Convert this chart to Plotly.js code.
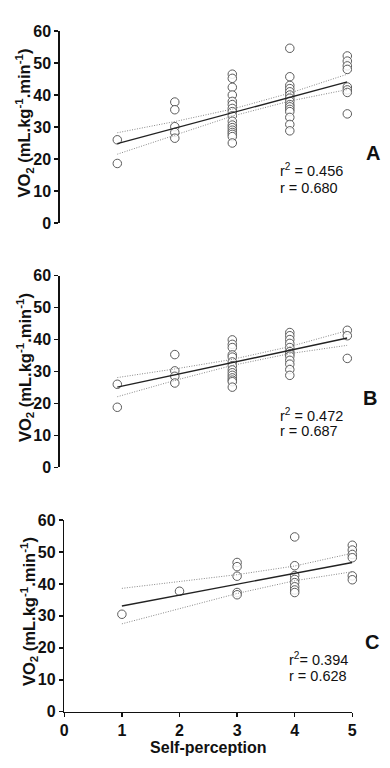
<!DOCTYPE html>
<html>
<head>
<meta charset="utf-8">
<script src="https://cdn.plot.ly/plotly-3.0.1.min.js"></script>
<style>html,body{margin:0;padding:0;background:#fff;}#chart{width:390px;height:768px;}</style>
</head>
<body>
<div id="chart"></div>
<script>
// ---- Data ----
// Panel A
const aX1 = [26, 18.6];
const aX2 = [37.8, 35.4, 30.1, 28.3, 26.5];
const aX3 = [46.5, 45.2, 42.4, 40, 38, 37, 35.8, 34.8, 33.5, 31.8, 30.6, 29.8, 29, 28.3, 27.7, 27, 25];
const aX4 = [54.6, 45.7, 43, 42, 41, 40, 39, 38, 37, 36.3, 35.5, 34.8, 33, 30.8, 28.8];
const aX5 = [52.2, 50.6, 49.1, 48, 42.5, 41.6, 40.8, 34.1];
const aFitY = [24.8, 44.1];
const aUpper = [28.2, 31.7, 35.6, 40.6, 46.5];
const aLower = [21.5, 27.5, 33.4, 38.1, 41.7];
// Panel B
const bX1 = [26, 18.8];
const bX2 = [35.3, 30.2, 28.5, 26.4];
const bX3 = [39.9, 38.5, 37.5, 35.2, 34.5, 33, 31.8, 30.5, 29.6, 28.8, 28, 27.3, 26.8, 25.1];
const bX4 = [42.2, 41.2, 40, 38.8, 37.5, 36.2, 35.5, 34.8, 33.5, 32.3, 30.6, 28.8];
const bX5 = [42.9, 41.2, 34.1];
const bFitY = [25.1, 40.5];
const bUpper = [28.1, 30.8, 33.8, 37.8, 42.8];
const bLower = [22.1, 27.2, 31.9, 35.6, 38.2];
// Panel C
const cX1 = [30.5];
const cX2 = [37.7];
const cX3 = [46.7, 45.4, 42.4, 37.3, 36.6];
const cX4 = [54.7, 45.7, 42.6, 41.4, 40.4, 39.1, 38.1, 37.3];
const cX5 = [52.1, 50.6, 49.2, 48.2, 42.5, 41.3];
const cFitY = [33.1, 46.7];
const cUpper = [38.6, 40.8, 42.9, 45.6, 49.6];
const cLower = [27.5, 32.3, 37.0, 41.0, 43.8];

const fitX = [1, 5];
const ciX = [1, 2, 3, 4, 5];
const xTicks = [0, 1, 2, 3, 4, 5];
const yTicks = [0, 10, 20, 30, 40, 50, 60];
const panelLabels = ['A', 'B', 'C'];
const r2Text = ['r<sup>2</sup> = 0.456', 'r<sup>2</sup> = 0.472', 'r<sup>2</sup>= 0.394'];
const rText = ['r = 0.680', 'r = 0.687', 'r = 0.628'];
const yTitle = 'VO<sub>2</sub> (mL.kg<sup>-1</sup>.min<sup>-1</sup>)';
const xTitle = 'Self-perception';

// ---- Build traces ----
function groupPoints(groups) {
  const xs = [], ys = [];
  groups.forEach((g, i) => g.forEach(v => { xs.push(i + 1); ys.push(v); }));
  return {xs, ys};
}
const panels = [
  {groups: [aX1, aX2, aX3, aX4, aX5], fit: aFitY, up: aUpper, lo: aLower, xa: 'x', ya: 'y'},
  {groups: [bX1, bX2, bX3, bX4, bX5], fit: bFitY, up: bUpper, lo: bLower, xa: 'x2', ya: 'y2'},
  {groups: [cX1, cX2, cX3, cX4, cX5], fit: cFitY, up: cUpper, lo: cLower, xa: 'x3', ya: 'y3'}
];
const traces = [];
panels.forEach(p => {
  const pts = groupPoints(p.groups);
  traces.push({x: pts.xs, y: pts.ys, xaxis: p.xa, yaxis: p.ya, type: 'scatter', mode: 'markers', cliponaxis: false,
    marker: {symbol: 'circle', size: 8.5, color: 'rgba(255,255,255,0.85)', line: {color: '#5a5a5a', width: 1}}, hoverinfo: 'x+y'});
  traces.push({x: ciX, y: p.up, xaxis: p.xa, yaxis: p.ya, type: 'scatter', mode: 'lines', line: {color: '#888', width: 1, dash: '1px,1.5px'}});
  traces.push({x: ciX, y: p.lo, xaxis: p.xa, yaxis: p.ya, type: 'scatter', mode: 'lines', line: {color: '#888', width: 1, dash: '1px,1.5px'}});
  traces.push({x: fitX, y: p.fit, xaxis: p.xa, yaxis: p.ya, type: 'scatter', mode: 'lines', line: {color: '#222', width: 1.4}});
});

const FONT = 'Liberation Sans, Arial, sans-serif';
function yAxis(domain, anchor) {
  return {domain, anchor, range: [0, 60], tickvals: yTicks, ticks: 'outside', ticklen: 4, tickwidth: 1.5, tickcolor: '#111',
    showline: true, linecolor: '#111', linewidth: 1.5, showgrid: false, zeroline: false,
    tickfont: {family: FONT, size: 16, color: '#111', weight: 700}};
}
const W = 390, H = 768;
const layout = {
  width: W, height: H, margin: {l: 0, r: 0, t: 0, b: 0}, paper_bgcolor: '#fff', plot_bgcolor: 'rgba(0,0,0,0)',
  showlegend: false,
  xaxis: {domain: [59.8 / W, 347.3 / W], anchor: 'y', range: [0, 5], visible: false},
  xaxis2: {domain: [59.8 / W, 347.3 / W], anchor: 'y2', range: [0, 5], visible: false},
  xaxis3: {domain: [64.3 / W, 352.3 / W], anchor: 'y3', range: [0, 5], tickvals: xTicks, ticks: 'outside', ticklen: 4, tickwidth: 1.5, tickcolor: '#111',
    showline: true, linecolor: '#111', linewidth: 1.5, showgrid: false, zeroline: false,
    tickfont: {family: FONT, size: 16, color: '#111', weight: 700},
    title: {text: xTitle, font: {family: FONT, size: 16, color: '#111', weight: 700}, standoff: 3}},
  yaxis: yAxis([1 - 223 / H, 1 - 31 / H], 'x'),
  yaxis2: yAxis([1 - 467.3 / H, 1 - 275.7 / H], 'x2'),
  yaxis3: yAxis([1 - 711.7 / H, 1 - 520 / H], 'x3'),
  annotations: []
};
const labelPos = [[373, 153], [370, 398], [372, 642]];
const statPos = [[278, 170, 188], [278, 415, 431], [287, 659, 676]];
const yTitlePos = [[25, 123.5], [25, 368], [29, 612]];
for (let i = 0; i < 3; i++) {
  layout.annotations.push({xref: 'paper', yref: 'paper', x: yTitlePos[i][0] / W, y: 1 - yTitlePos[i][1] / H, xanchor: 'center', yanchor: 'middle',
    text: yTitle, textangle: -90, showarrow: false, font: {family: FONT, size: 16.5, color: '#111', weight: 700}});
  layout.annotations.push({xref: 'paper', yref: 'paper', x: labelPos[i][0] / W, y: 1 - labelPos[i][1] / H, xanchor: 'center', yanchor: 'middle',
    text: panelLabels[i], showarrow: false, font: {family: FONT, size: 20, color: '#111', weight: 700}});
  layout.annotations.push({xref: 'paper', yref: 'paper', x: statPos[i][0] / W, y: 1 - statPos[i][1] / H, xanchor: 'left', yanchor: 'middle',
    text: r2Text[i], showarrow: false, font: {family: FONT, size: 14.5, color: '#111'}});
  layout.annotations.push({xref: 'paper', yref: 'paper', x: statPos[i][0] / W, y: 1 - statPos[i][2] / H, xanchor: 'left', yanchor: 'middle',
    text: rText[i], showarrow: false, font: {family: FONT, size: 14.5, color: '#111'}});
}
Plotly.newPlot('chart', traces, layout, {staticPlot: true, displayModeBar: false});
</script>
</body>
</html>
